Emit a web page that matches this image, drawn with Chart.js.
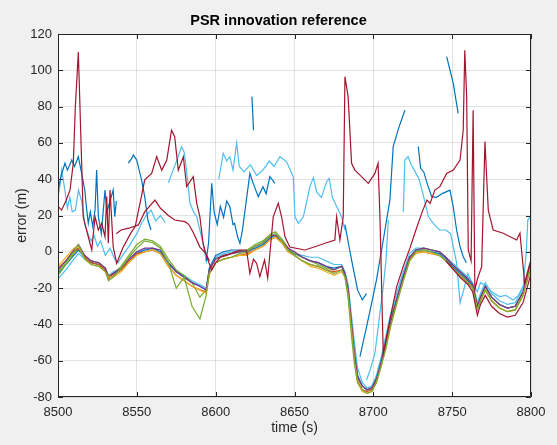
<!DOCTYPE html>
<html>
<head>
<meta charset="utf-8">
<script src="https://cdn.jsdelivr.net/npm/chart.js@4.4.1/dist/chart.umd.min.js"></script>
<style>
  html, body { margin: 0; padding: 0; background: #f0f0f0; }
  #wrap { width: 557px; height: 445px; }
</style>
</head>
<body>
<div id="wrap"><canvas id="c" width="557" height="445"></canvas></div>
<script>
// ---------------- DATA ----------------
const chartTitle = 'PSR innovation reference';
const xTitle = 'time (s)';
const yTitle = 'error (m)';
const xTicks = [8500, 8550, 8600, 8650, 8700, 8750, 8800];
const yTicks = [-80, -60, -40, -20, 0, 20, 40, 60, 80, 100, 120];

// main dark-red trace [time, error]
const redMain = [[8500,25],[8502.3,23],[8505,28],[8507.6,34],[8509.7,48.8],[8511,80],[8512.9,110],[8515,48.8],[8516,19.3],[8519.2,8.3],[8521.4,1],[8523.5,19.3],[8525.6,12],[8527.7,15.7],[8529.8,8.3],[8530.9,30.4],[8531.9,4.7],[8533,34],[8535,2.8],[8537.2,-6.4],[8541,2],[8546,10],[8549,14],[8552,26.7],[8555,39.6],[8559.4,43.2],[8562.6,52.4],[8565.8,45],[8569,50.6],[8572,67],[8574,63.4],[8576.3,45],[8579.5,52.4],[8581.6,35.9],[8585.8,41.4],[8588,26.7],[8590,19.3],[8592,4.7],[8594.3,-2.7],[8597.5,-10],[8600,-6],[8603,-3],[8607,-2],[8612,0],[8616,1],[8619.6,1],[8621.7,-11.9],[8624,-4],[8626,-6.4],[8628,-13.7],[8631,-4.5],[8633,-14.4],[8636.5,19.3],[8639.7,26.7],[8641.8,19.3],[8644,8.3],[8647,2.6],[8656.6,1],[8663,2.8],[8669.3,4.7],[8675.6,6.5],[8676.7,19.3],[8678.8,6.5],[8680.9,19.3],[8682,96.5],[8684,85.5],[8686.2,48.8],[8688.3,45],[8690.4,43.2],[8696.8,37.7],[8701,43.2],[8703,48.8],[8704.2,19.3],[8705.3,-21],[8706.3,-56],[8710.5,-37.6],[8714.8,-19.2],[8719,-8],[8723.2,2],[8727,12],[8731,22],[8734,28.5],[8736,26.7],[8739,34],[8742.2,35.9],[8746.5,43.2],[8750.7,45],[8755,50.6],[8757,67],[8758,111],[8759.2,85.5],[8760.2,1],[8762,-5],[8763.3,78],[8764.4,-21],[8766,-15],[8768.7,-8.2],[8770.8,60.7],[8772.9,23],[8776,12],[8782.4,10.2],[8790.9,6.5],[8793,10.2],[8794,1],[8796,-17.4],[8799.3,-6.4],[8800,-5]];

// second dark-red trace
const redSecond = [[8537,10],[8540,12],[8545,13],[8551,14.8],[8555,22],[8561.5,28.5],[8565,24],[8570,20],[8574,17.5],[8580.5,16.6],[8583,15],[8585.8,10.6],[8590,2.6],[8593.6,-0.7],[8596,-5]];

// dark-red trace inside the lower bundle
const redLow = [[8746,-5],[8750,-9],[8755,-14],[8760,-18],[8763,-22],[8766,-35],[8768,-29],[8771,-24],[8775,-30],[8780,-34],[8785,-36],[8790,-35],[8795,-28],[8800,-12]];

// blue upper segments (null = gap)
const blueUpper = [[8500,34],[8502,42],[8504.4,48.8],[8506,45],[8508.7,50.6],[8510.5,47],[8512.9,52.4],[8515,43.2],[8517,34],[8518,24.8],[8519.2,15.7],[8520.5,22],[8522,14],[8523.5,23],[8524.5,45],[8525.6,19.3],[8527.5,10],[8529.8,34],[8531,22],[8533,28],[8535,34],[8536,19.3],[8537,28],[8538,null],
[8544.6,48.8],[8546.5,51],[8547.8,53.3],[8549.9,50.6],[8553,39.6],[8555,30.4],[8557,17.5],[8559,12],[8560,null],
[8594,-5],[8595.5,5],[8597.5,37.7],[8599,22],[8601,15],[8603,25],[8605,19],[8607,28],[8609,24.8],[8611,15],[8612,15.7],[8614,8],[8615.4,4.7],[8617,12],[8619.7,30],[8621.7,43.2],[8623.8,37.7],[8627,30.4],[8630,35.9],[8632,32],[8634.4,41.4],[8637.6,37.7],[8639,null],
[8623,85.5],[8624,67],[8625,null],
[8682,15],[8683.5,8],[8685,1],[8687,-8],[8690,-21],[8693,-26.5],[8695.7,-23],[8696,null],
[8691.5,-57.8],[8695.7,-41.3],[8699,-28],[8702,-15.5],[8706.3,6.5],[8710.5,28.5],[8712.6,58],[8716,68],[8720,78],[8721,null],
[8728.5,58],[8730,46],[8732,44],[8734,38],[8737,30.4],[8740,30],[8744,32.2],[8748.6,34],[8750.7,24.8],[8752.8,12],[8755,2.8],[8757,-2.7],[8759,-6],[8760,null],
[8746.5,107.5],[8750.7,92.8],[8753.8,76.3]];

// light-blue upper segments (null = gap)
const lightUpper = [[8500,30],[8501.5,38],[8502.3,45],[8504,36],[8506,24],[8507.5,30],[8509,22],[8511,23],[8513,34],[8515,28],[8517,15],[8519,10],[8521,6],[8523,9],[8525,3],[8527,6],[8530,-2],[8533,2],[8536,-4],[8538,-6],[8540.4,-2.7],[8545,3],[8550,10],[8553,15.7],[8556,20],[8559,23],[8562,17],[8565,20],[8568,16],[8569,null],
[8570,38],[8573,45],[8576,52],[8578.4,57.9],[8580,55],[8581.5,45],[8583.7,26.7],[8586,22],[8588,19.3],[8590,12],[8592,4.7],[8594.3,-6.4],[8595,null],
[8602,40],[8604.8,54.3],[8607,50],[8609,52.4],[8611,45],[8613.3,60],[8615,47],[8618,44],[8622,48],[8626,42],[8630,45],[8634,50],[8637,47],[8640.8,52.4],[8645,49.6],[8649.2,41.4],[8650.3,19.3],[8652.4,15.7],[8655.6,19.3],[8659.8,35.9],[8662,41],[8664,33],[8667,30],[8670.4,38.6],[8672,40.5],[8674,30],[8677.8,23],[8680,19],[8682,12],[8683,null],
[8695.7,-70.6],[8698,-65],[8701,-56],[8704,-35],[8706.3,-19.2],[8708,-5],[8709.5,17.5],[8710,null],
[8719,22],[8720,50.6],[8722,52.4],[8724,48],[8726,45],[8729,40],[8732,30],[8735,19.3],[8738,15.7],[8742,12],[8746,12],[8749,10],[8752.8,-6],[8755,-28],[8757,-22],[8760,-12],[8763,-18],[8766,-22],[8768,-17],[8771.8,-19],[8775,-22],[8780,-24.7],[8784,-24],[8788.7,-26.5],[8792,-24],[8795,-19],[8797,0],[8798,17.5],[8800,20]];

// lower bundle: common time grid and one array per trace
const bundleTime = [8500,8505,8510,8513,8517,8521,8526,8530,8532,8535,8540,8545,8550,8555,8560,8565,8570,8575,8580,8585,8590,8594,8596,8600,8605,8610,8615,8620,8625,8630,8635,8638,8642,8646,8650,8655,8660,8665,8670,8675,8680,8682,8684,8686,8688,8690,8693,8696,8699,8702,8705,8708,8711,8715,8719,8723,8727,8732,8737,8742,8746,8750,8755,8760,8763,8766,8768,8771,8775,8780,8785,8790,8795,8800];
const greenA = [-11,-6,0,4,-4,-7,-8,-11,-16,-14, -9,-3,2,6,5,2,-6,-20,-14,-30, -37,-24,-12,-6,-4,-3,-1,0,3,5, 9,10,6,1,-2,-5,-7,-8,-10,-12, -10,-14,-25,-45,-62,-72,-76,-78,-77,-72, -63,-53,-41,-28,-16,-5,0,1,0,-2, -5,-9,-13,-17,-20,-32,-27,-21,-27,-31, -33,-32,-24,-8];
const greenB = [-13,-7,-1,2,-2,-5,-6,-9,-13,-12, -8,-2,4,7,6,3,-4,-10,-13,-17, -25,-21,-10,-4,-2,-1,0,1,4,6, 10,11,7,2,-1,-3,-5,-7,-9,-10, -8,-12,-20,-38,-56,-69,-74,-76,-76,-70, -61,-50,-38,-26,-14,-3,1,2,1,0, -3,-7,-11,-15,-18,-30,-25,-19,-25,-29, -31,-30,-22,-6];
const yellowT = [-8,-3,2,3,-4,-7,-8,-11,-14,-14, -11,-6,-2,0,1,-1,-8,-13,-16,-19, -21,-23,-12,-6,-4,-3,-2,-2,1,3, 7,8,5,0,-2,-5,-8,-9,-11,-13, -11,-14,-24,-42,-60,-72,-77,-78,-77,-72, -63,-53,-41,-28,-16,-5,-1,0,-1,-2, -5,-9,-13,-17,-20,-32,-27,-21,-27,-31, -33,-32,-24,-8];
const purpleT = [-10,-5,1,4,-2,-5,-6,-9,-14,-12, -9,-4,0,2,2,1,-6,-11,-14,-17, -19,-21,-10,-4,-2,-1,0,0,3,5, 9,9,6,2,0,-3,-5,-6,-8,-10, -8,-12,-21,-39,-57,-69,-74,-76,-75,-70, -61,-51,-39,-26,-14,-3,1,2,1,0, -3,-7,-11,-15,-18,-30,-25,-19,-25,-29, -31,-30,-22,-6];
const orangeT = [-9,-5,0,2,-3,-6,-7,-10,-15,-13, -10,-5,-1,0,1,-1,-8,-13,-16,-19, -21,-22,-12,-6,-4,-3,-2,-1,1,3, 7,8,5,0,-2,-5,-7,-8,-10,-11, -10,-13,-23,-41,-59,-71,-76,-77,-76,-71, -62,-52,-40,-27,-15,-4,0,0,-1,-2, -5,-9,-13,-17,-20,-31,-27,-21,-27,-31, -33,-32,-24,-8];
const blueT = [-12,-7,-2,1,-3,-6,-7,-10,-14,-12, -10,-5,-1,1,2,0,-6,-11,-14,-17, -19,-21,-9,-2,0,1,1,0,2,4, 8,9,6,1,-1,-3,-5,-6,-8,-9, -8,-12,-20,-38,-55,-68,-74,-76,-75,-70, -60,-49,-37,-25,-13,-3,1,1,0,-1, -4,-8,-12,-16,-19,-30,-25,-19,-25,-29, -31,-30,-22,-6];
const lightT = [-15,-10,-4,-1,-4,-6,-7,-9,-13,-11, -9,-4,0,1,1,-1,-7,-11,-13,-16, -18,-20,-9,-3,-1,0,0,1,2,4, 7,8,5,0,-1,-2,-3,-3,-5,-7, -7,-11,-18,-34,-50,-64,-72,-75,-74,-68, -58,-46,-34,-22,-11,-1,2,2,1,0, -3,-6,-10,-14,-17,-28,-23,-17,-23,-27, -29,-28,-20,-4];

// ---------------- BUILD ----------------
const C = { blue:'#0072BD', orange:'#D95319', yellow:'#EDB120', purple:'#7E2F8E', green:'#77AC30', light:'#4DBEEE', red:'#A2142F' };
const fromPairs = p => p.map(([x, y]) => ({ x, y }));
const fromGrid = v => bundleTime.map((t, i) => ({ x: t, y: v[i] }));
const ds = (data, color) => ({ data, borderColor: color, backgroundColor: color, borderWidth: 1.2, pointRadius: 0, tension: 0, spanGaps: false, fill: false });

const datasets = [
  ds(fromPairs(redMain), C.red),
  ds(fromPairs(redSecond), C.red),
  ds(fromPairs(redLow), C.red),
  ds(fromGrid(greenA), C.green),
  ds(fromGrid(yellowT), C.yellow),
  ds(fromGrid(purpleT), C.purple),
  ds(fromGrid(orangeT), C.orange),
  ds(fromGrid(greenB), C.green),
  ds(fromGrid(blueT), C.blue),
  ds(fromGrid(lightT), C.light),
  ds(fromPairs(blueUpper), C.blue),
  ds(fromPairs(lightUpper), C.light)
];

const axisColor = '#262626';
const framePlugin = {
  id: 'frame',
  beforeDraw(chart) {
    const { ctx, chartArea: a } = chart;
    ctx.save();
    ctx.fillStyle = '#f0f0f0';
    ctx.fillRect(0, 0, chart.width, chart.height);
    ctx.fillStyle = '#ffffff';
    ctx.fillRect(a.left, a.top, a.right - a.left, a.bottom - a.top);
    ctx.restore();
  },
  afterDatasetsDraw(chart) {
    const { ctx, chartArea: a, scales: { x, y } } = chart;
    ctx.save();
    ctx.strokeStyle = axisColor;
    ctx.lineWidth = 1;
    ctx.beginPath();
    ctx.rect(a.left + 0.5, a.top + 0.5, a.right - a.left - 1, a.bottom - a.top - 1);
    const L = 5;
    xTicks.forEach(v => {
      const px = Math.round(x.getPixelForValue(v)) + 0.5;
      ctx.moveTo(px, a.bottom); ctx.lineTo(px, a.bottom - L);
      ctx.moveTo(px, a.top); ctx.lineTo(px, a.top + L);
    });
    yTicks.forEach(v => {
      const py = Math.round(y.getPixelForValue(v)) + 0.5;
      ctx.moveTo(a.left, py); ctx.lineTo(a.left + L, py);
      ctx.moveTo(a.right, py); ctx.lineTo(a.right - L, py);
    });
    ctx.stroke();
    ctx.restore();
  }
};

const font = 'Liberation Sans, Arial, Helvetica, sans-serif';
new Chart(document.getElementById('c'), {
  type: 'line',
  data: { datasets },
  plugins: [framePlugin],
  options: {
    responsive: false,
    animation: false,
    events: [],
    layout: { padding: 0 },
    plugins: {
      legend: { display: false },
      tooltip: { enabled: false },
      title: {
        display: true, text: chartTitle, color: '#000',
        font: { family: font, size: 14.5, weight: 'bold' },
        padding: { top: 12, bottom: 4.6 }
      }
    },
    scales: {
      x: {
        type: 'linear', min: 8500, max: 8800,
        afterBuildTicks: s => { s.ticks = xTicks.map(v => ({ value: v })); },
        afterFit: s => { s.height = 48; },
        grid: { color: 'rgba(38,38,38,0.13)', drawTicks: false, lineWidth: 1 },
        border: { display: false },
        ticks: { color: axisColor, font: { family: font, size: 13 }, padding: 8, maxRotation: 0, autoSkip: false, callback: v => String(v) },
        title: { display: true, text: xTitle, color: axisColor, font: { family: font, size: 14 }, padding: { top: 0, bottom: 8.6 } }
      },
      y: {
        type: 'linear', min: -80, max: 120,
        afterBuildTicks: s => { s.ticks = yTicks.map(v => ({ value: v })); },
        afterFit: s => { s.width = 58; },
        grid: { color: 'rgba(38,38,38,0.13)', drawTicks: false, lineWidth: 1 },
        border: { display: false },
        ticks: { color: axisColor, font: { family: font, size: 13 }, padding: 6, autoSkip: false, callback: v => String(v) },
        title: { display: true, text: yTitle, color: axisColor, font: { family: font, size: 14 }, padding: { top: 14, bottom: 0 } }
      },
      yR: {
        type: 'linear', position: 'right', display: true,
        afterFit: s => { s.width = 26; },
        grid: { display: false, drawTicks: false },
        border: { display: false },
        ticks: { display: false }
      }
    }
  }
});
</script>
</body>
</html>
